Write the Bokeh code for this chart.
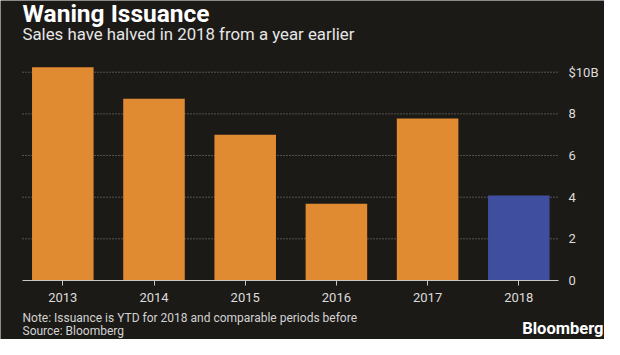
from bokeh.plotting import figure
from bokeh.models import Label, FixedTicker, Range1d, ColumnDataSource
from bokeh.embed import file_html
from bokeh.resources import INLINE

# ---- data ----
years = ["2013", "2014", "2015", "2016", "2017", "2018"]
issuance = [10.24, 8.72, 7.0, 3.68, 7.78, 4.08]
y_ticks = [0, 2, 4, 6, 8, 10]
y_tick_labels = ["0", "2", "4", "6", "8", "$10B"]
highlight_year = "2018"
title_text = "Waning Issuance"
subtitle_text = "Sales have halved in 2018 from a year earlier"
note_text = "Note: Issuance is YTD for 2018 and comparable periods before"
source_text = "Source: Bloomberg"
brand_text = "Bloomberg"

# ---- geometry (frame = whole canvas; page pixels -> data) ----
W, H = 604, 339
X_PX = 91.2          # px per category
X0_PX = 62.3         # page x of first category centre
Y_PX = 20.83         # px per unit
Y0_PX = 280.0        # page y of value 0
AREA_L, AREA_R = 22, 558

x_start = -X0_PX / X_PX
x_end = x_start + W / X_PX
y_start = -(H - Y0_PX) / Y_PX
y_end = Y0_PX / Y_PX


def dx(px):
    return x_start + px / X_PX


def dy(py):
    return (Y0_PX - py) / Y_PX


BG = "#1c1a17"
ORANGE = "#e08a31"
BLUE = "#3f4e9f"
FONT = "Roboto"

xs = list(range(len(years)))
colors = [BLUE if y == highlight_year else ORANGE for y in years]
src = ColumnDataSource(dict(x=xs, top=issuance, color=colors, year=years))

p = figure(width=W, height=H, x_range=Range1d(x_start, x_end), y_range=Range1d(y_start, y_end),
           output_backend="svg", toolbar_location=None, y_axis_location="right",
           min_border=0, min_border_left=0, min_border_right=0, min_border_top=0,
           min_border_bottom=0, title=None)
p.background_fill_color = BG
p.border_fill_color = BG
p.outline_line_color = None
p.grid.visible = False

# dotted gridlines at the tick values (drawn through the scales)
grid_vals = y_ticks[1:]
p.segment(x0=[dx(AREA_L)] * len(grid_vals), x1=[dx(AREA_R)] * len(grid_vals),
          y0=grid_vals, y1=grid_vals, line_color="#8c8c8c", line_dash="1 2", line_width=1)

p.vbar(x="x", top="top", width=0.675, bottom=0, color="color", line_color=None, source=src)

# x axis drawn at value 0
xa = p.xaxis[0]
xa.fixed_location = 0
xa.bounds = (dx(AREA_L), dx(AREA_R))
xa.ticker = FixedTicker(ticks=xs)
xa.major_label_overrides = {i: y for i, y in enumerate(years)}
xa.axis_line_color = "#c8c8c8"
xa.axis_line_width = 1
xa.major_tick_line_color = "#c8c8c8"
xa.major_tick_in = 0
xa.major_tick_out = 5
xa.minor_tick_line_color = None
xa.major_label_text_color = "#dcdcdc"
xa.major_label_text_font = FONT
xa.major_label_text_font_size = "13px"
xa.major_label_standoff = 7

# y axis on the right edge of the bar area
ya = p.yaxis[0]
ya.fixed_location = dx(AREA_R)
ya.bounds = (0, 10)
ya.ticker = FixedTicker(ticks=y_ticks)
ya.major_label_overrides = {t: l for t, l in zip(y_ticks, y_tick_labels)}
ya.axis_line_color = None
ya.major_tick_line_color = None
ya.major_tick_in = 0
ya.major_tick_out = 0
ya.minor_tick_line_color = None
ya.minor_tick_out = 0
ya.major_label_text_color = "#dcdcdc"
ya.major_label_text_font = FONT
ya.major_label_text_font_size = "13px"
ya.major_label_standoff = 10


def add_text(px, py, text, size_px, color, style="normal", align="left"):
    # labels render about 0.36 em lower than the requested baseline; compensate
    y_req = py - 0.36 * size_px
    p.add_layout(Label(x=dx(px), y=dy(y_req), text=text, text_font=FONT,
                       text_font_size=f"{size_px}px", text_color=color, text_font_style=style,
                       text_align=align, text_baseline="alphabetic"))


add_text(22, 22, title_text, 24.5, "#ffffff", "bold")
add_text(22, 40, subtitle_text, 16.8, "#e6e6e6")
add_text(22, 322, note_text, 12, "#d2d2d2")
add_text(22, 335, source_text, 12, "#d2d2d2")
add_text(603, 334, brand_text, 16.5, "#ffffff", "bold", "right")

open("out.html", "w").write(file_html(p, INLINE))
